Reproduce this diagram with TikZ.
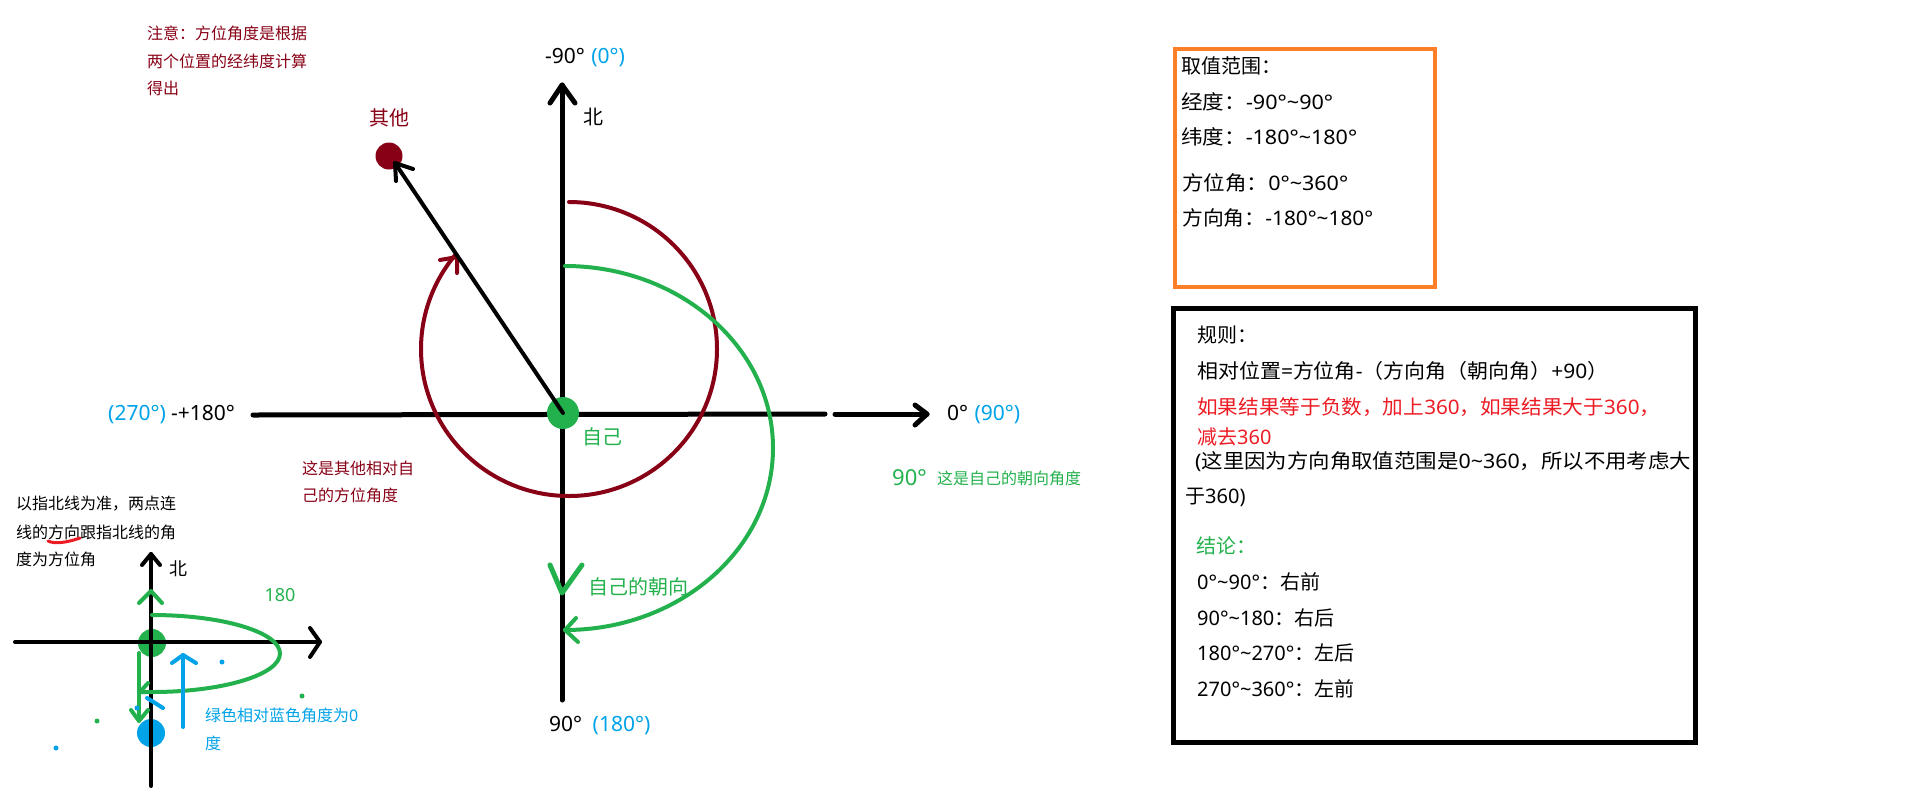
\documentclass[tikz,border=0pt]{standalone}
\usepackage{fontspec}
\usepackage{graphicx}
\setmainfont{Noto Sans CJK SC}
\newfontfamily\latf{Noto Sans}
\definecolor{cdred}{HTML}{880015}
\definecolor{cgreen}{HTML}{22B14C}
\definecolor{cblue}{HTML}{00A2E8}
\definecolor{corange}{HTML}{FF7F27}
\definecolor{cred}{HTML}{ED1C24}
\newcommand{\tld}{\textasciitilde}
\newcommand{\fsz}[1]{\fontsize{#1}{#1}\selectfont}
\newcommand{\lat}[1]{{\latf #1}}
\tikzset{
  t/.style={inner sep=0pt, anchor=west},
  note/.style={t, text=cdred, font=\fsz{16}},
  lab/.style={t, font=\latf\fsz{21}},
  boxtxt/.style={t, font=\fsz{20}},
  small/.style={t, font=\fsz{16}},
  dot/.style={circle, inner sep=0pt},
  stroke/.style={line cap=round, line join=round},
  axis/.style={stroke, line width=5},
  thin/.style={stroke, line width=4},
}
\begin{document}
\begin{tikzpicture}[x=1pt,y=-1pt]
\useasboundingbox (0,0) rectangle (1914,807);

% ---------- top-left note
\node[note] (n1) at (147,33) {注意：方位角度是根据};
\node[note] (n2) at (147,61) {两个位置的经纬度计算};
\node[note] (n3) at (147,88) {得出};

% ---------- main axes
\coordinate (Ntop) at (562,85);
\coordinate (Sbot) at (562,700);
\coordinate (W) at (253,415);
\coordinate (gapL) at (825,414);
\coordinate (gapR) at (835,414);
\coordinate (E) at (927,414);
\draw[axis] (Sbot) -- (Ntop);
\draw[axis] (550,103) -- (Ntop) -- (575,103);
\draw[axis] (W) -- (gapL);
\draw[axis] (gapR) -- (E);
\draw[axis] (915,405) -- (E) -- (915,425);

% ---------- red arc (azimuth of other)
\coordinate (rc) at (569,350);
\draw[thin, cdred] (rc) ++(-90:148) arc[start angle=-90, end angle=220, x radius=148, y radius=147];
\coordinate (rtip) at (457,257);
\draw[thin, cdred] (440,260) -- (rtip) -- (457,273);

% ---------- green arc (own heading)
\coordinate (gc) at (565,448);
\draw[thin, cgreen] (gc) ++(-90:182) arc[start angle=-90, end angle=90, x radius=208, y radius=182] coordinate (gend);
\draw[thin, cgreen] (576,618) -- (gend) -- (578,642);
\draw[axis, cgreen] (550,565) -- (562,593) -- (582,565);

% ---------- dots and arrow
\node[dot, fill=cgreen, minimum size=32pt] (self) at (563,413) {};
\node[dot, fill=cdred, minimum size=27pt] (other) at (389,156) {};
\coordinate (otip) at (395,163);
\draw[thin] (self.center) -- (otip);
\draw[thin] (413,169) -- (otip) -- (396,181);

% ---------- main labels
\node[t, text=cdred, font=\fsz{20}, anchor=center] (otherlab) at (389,118) {其他};
\node[lab] (nlab) at (545,58) {-90°\hspace{0.3em}\textcolor{cblue}{(0°)}};
\node[t, font=\fsz{20}, anchor=center] (bei) at (593,117) {北};
\node[lab] (wlab) at (108,415) {\textcolor{cblue}{(270°)}\hspace{0.25em}-+180°};
\node[note] (az1) at (302,468) {这是其他相对自};
\node[note] (az2) at (302,495) {己的方位角度};
\node[t, text=cgreen, font=\fsz{20}, anchor=center] (selflab) at (602,437) {自己};
\node[lab] (elab) at (947,415) {0°\hspace{0.3em}\textcolor{cblue}{(90°)}};
\node[t, text=cgreen, font=\latf\fsz{22}] (h90) at (892,478) {90°};
\node[t, text=cgreen, font=\fsz{16}] (hlab) at (937,478) {这是自己的朝向角度};
\node[t, text=cgreen, font=\fsz{20}] (headlab) at (588,587) {自己的朝向};
\node[lab] (slab) at (549,726) {90°\hspace{0.5em}\textcolor{cblue}{(180°)}};

% ---------- orange box
\draw[corange, line width=4] (1175,49) rectangle (1435,287);
\node[boxtxt] (o1) at (1181,66) {取值范围：};
\node[boxtxt] (o2) at (1181,102) {\resizebox{152pt}{\height}{经度：\lat{-90°\tld 90°}}};
\node[boxtxt] (o3) at (1181,137) {\resizebox{176pt}{\height}{纬度：\lat{-180°\tld 180°}}};
\node[boxtxt] (o4) at (1182,183) {\resizebox{166pt}{\height}{方位角：\lat{0°\tld 360°}}};
\node[boxtxt] (o5) at (1182,218) {\resizebox{191pt}{\height}{方向角：\lat{-180°\tld 180°}}};

% ---------- black box
\draw[black, line width=5] (1173,308) rectangle (1695,742);
\node[boxtxt] (r1) at (1197,335) {规则：};
\node[boxtxt] (r2) at (1197,371) {\resizebox{411pt}{\height}{相对位置\lat{=}方位角\lat{-}（方向角（朝向角）\lat{+90}）}};
\node[boxtxt, text=cred] (r3) at (1197,407) {\resizebox{463pt}{\height}{如果结果等于负数，加上\lat{360}，如果结果大于\lat{360}，}};
\node[boxtxt, text=cred] (r4) at (1197,437) {减去\lat{360}};
\node[boxtxt] (r5) at (1195,462) {\resizebox{496pt}{\height}{\lat{(}这里因为方向角取值范围是\lat{0\tld 360}，所以不用考虑大}};
\node[boxtxt] (r6) at (1185,497) {于\lat{360)}};
\node[boxtxt, text=cgreen] (r7) at (1196,546) {结论：};
\node[boxtxt] (r8) at (1197,582) {\lat{0°\tld 90°}：右前};
\node[boxtxt] (r9) at (1197,618) {\lat{90°\tld 180}：右后};
\node[boxtxt] (r10) at (1197,653) {\lat{180°\tld 270°}：左后};
\node[boxtxt] (r11) at (1197,689) {\lat{270°\tld 360°}：左前};

% ---------- bottom-left small diagram
\node[small] (s1) at (16,504) {以指北线为准，两点连};
\node[small] (s2) at (16,532) {线的方向跟指北线的角};
\node[small] (s3) at (16,559) {度为方位角};
\draw[cred, line width=3, line cap=round] (48,541) .. controls (54,544) and (66,543) .. (80,538);

\node[dot, fill=cgreen, minimum size=28pt] (g2) at (152,643) {};
\node[dot, fill=cblue, minimum size=28pt] (b2) at (151,733) {};
\coordinate (sN) at (151,554);
\coordinate (sS) at (151,786);
\coordinate (sW) at (15,642);
\coordinate (sE) at (320,642);
\draw[thin] (sS) -- (sN);
\draw[thin] (142,565) -- (sN) -- (160,565);
\draw[thin] (sW) -- (sE);
\draw[thin] (310,628) -- (sE) -- (310,657);

\node[t, font=\fsz{18}, anchor=center] (bei2) at (178,569) {北};
\node[t, text=cgreen, font=\latf\fsz{18}, anchor=center] (l180) at (280,595) {180};

\draw[thin, cgreen] (139,603) -- (151,591) -- (162,603);
\draw[thin, cgreen] (152,615) arc[start angle=-90, end angle=90, x radius=128, y radius=38.5] -- (140,692) coordinate (ltip);
\draw[thin, cgreen] (148,683) -- (ltip);
\draw[thin, cgreen] (139,653) -- (139,720);
\draw[thin, cgreen] (131,710) -- (139,721) -- (148,710);
\draw[thin, cblue] (183,727) -- (183,655);
\draw[thin, cblue] (172,663) -- (183,655) -- (196,663);
\draw[thin, cblue] (147,698) -- (163,708);

\fill[cblue] (222,662) circle[radius=2.5];
\fill[cblue] (56,748) circle[radius=2.5];
\fill[cblue] (137,708) circle[radius=2.5];
\fill[cgreen] (302,696) circle[radius=2.5];
\fill[cgreen] (97,721) circle[radius=2.5];

\node[small, text=cblue] (bt1) at (205,715) {绿色相对蓝色角度为\lat{0}};
\node[small, text=cblue] (bt2) at (205,743) {度};
\end{tikzpicture}
\end{document}
